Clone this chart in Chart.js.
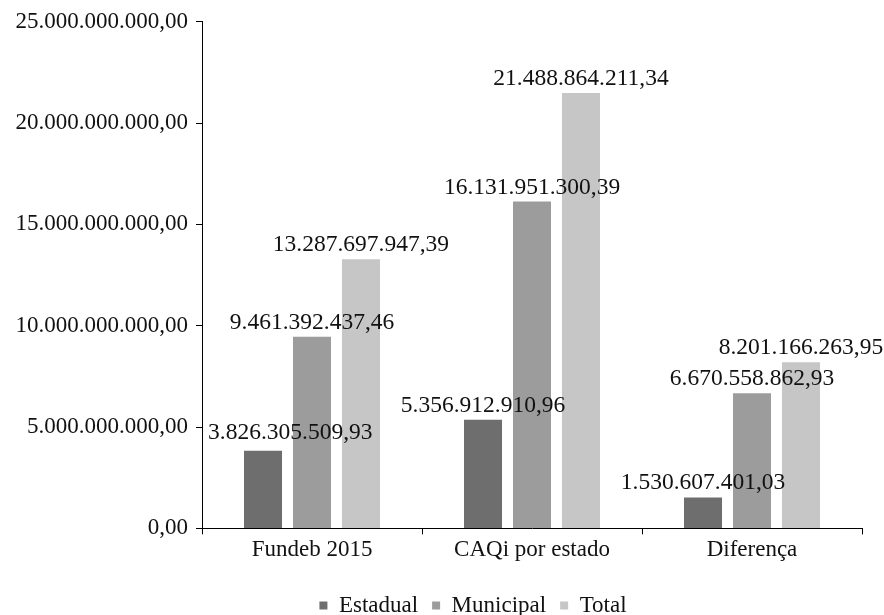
<!DOCTYPE html>
<html lang="pt-BR">
<head>
<meta charset="utf-8">
<title>Fundeb 2015 x CAQi por estado</title>
<script src="https://cdn.jsdelivr.net/npm/chart.js@4"></script>
<style>
  html, body { margin: 0; padding: 0; background: #fff; }
  #wrap { width: 884px; height: 615px; position: relative; }
</style>
</head>
<body>
<div id="wrap"><canvas id="grafico"></canvas></div>
<script>
// categorias e séries (R$)
const categorias = ['Fundeb 2015', 'CAQi por estado', 'Diferença'];
const estadual  = [3826305509.93, 5356912910.96, 1530607401.03];
const municipal = [9461392437.46, 16131951300.39, 6670558862.93];
const total     = [13287697947.39, 21488864211.34, 8201166263.95];
const ticksY    = [0, 5000000000, 10000000000, 15000000000, 20000000000, 25000000000];

const FONTE = "'Liberation Serif', 'Times New Roman', serif";

// formato brasileiro: 1.234.567,89
function formataBR(v) {
    const partes = v.toFixed(2).split('.');
    const inteiro = partes[0].replace(/\B(?=(\d{3})+(?!\d))/g, '.');
    return inteiro + ',' + partes[1];
}

// rótulos de valor acima de cada barra
const rotulosBarras = {
    id: 'rotulosBarras',
    afterDatasetsDraw(chart) {
        const ctx = chart.ctx;
        const area = chart.chartArea;
        ctx.save();
        ctx.font = '23.5px ' + FONTE;
        ctx.fillStyle = '#111';
        ctx.textBaseline = 'alphabetic';
        ctx.textAlign = 'left';
        chart.data.datasets.forEach((ds, i) => {
            const meta = chart.getDatasetMeta(i);
            meta.data.forEach((barra, j) => {
                const texto = formataBR(ds.data[j]);
                const largura = ctx.measureText(texto).width;
                let x = barra.x - largura / 2;
                let folga = 8;
                // não deixa o texto cruzar o eixo vertical
                if (x < area.left + 6) { x = area.left + 6; folga = 12; }
                ctx.fillText(texto, x, barra.y - folga);
            });
        });
        ctx.restore();
    }
};

// desloca a legenda um pouco para a direita, mais perto do centro das barras
const legendaDeslocada = {
    id: 'legendaDeslocada',
    afterLayout(chart) {
        const leg = chart.legend;
        if (!leg) return;
        leg.left += 38;
        leg.right += 38;
    }
};

new Chart(document.getElementById('grafico'), {
    type: 'bar',
    data: {
        labels: categorias,
        datasets: [
            { label: 'Estadual',  data: estadual,  backgroundColor: '#6e6e6e' },
            { label: 'Municipal', data: municipal, backgroundColor: '#9c9c9c' },
            { label: 'Total',     data: total,     backgroundColor: '#c6c6c6' }
        ]
    },
    options: {
        responsive: true,
        maintainAspectRatio: false,
        animation: false,
        categoryPercentage: 0.668,
        barPercentage: 0.776,
        layout: { padding: { left: 8, right: 22, top: 9, bottom: -12 } },
        plugins: {
            tooltip: { enabled: false },
            legend: {
                position: 'bottom',
                labels: {
                    boxWidth: 8,
                    boxHeight: 8,
                    padding: 14,
                    color: '#111',
                    font: { family: FONTE, size: 23 }
                }
            }
        },
        scales: {
            x: {
                afterFit(scale) {
                    scale.height += 14;
                },
                grid: { drawOnChartArea: false, tickLength: 6, color: '#000', offset: true },
                border: { color: '#000', width: 1 },
                ticks: { color: '#111', padding: 2, font: { family: FONTE, size: 23 } }
            },
            y: {
                min: 0,
                max: 25000000000,
                afterBuildTicks(scale) {
                    scale.ticks = ticksY.map(v => ({ value: v }));
                },
                afterFit(scale) {
                    scale.width = 194;
                },
                grid: { drawOnChartArea: false, tickLength: 6, color: '#000' },
                border: { color: '#000', width: 1 },
                ticks: {
                    color: '#111',
                    padding: 8,
                    font: { family: FONTE, size: 23 },
                    callback: v => formataBR(v)
                }
            }
        }
    },
    plugins: [rotulosBarras, legendaDeslocada]
});
</script>
</body>
</html>
